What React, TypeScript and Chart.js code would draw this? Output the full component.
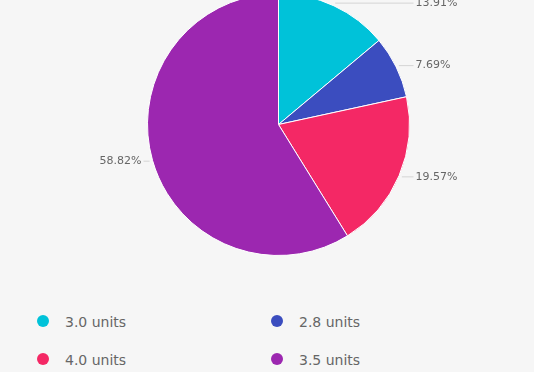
import React, { useEffect, useRef } from "react";
import { Chart, registerables } from "chart.js";

Chart.register(...registerables);

const categories = ["3.0 units", "2.8 units", "4.0 units", "3.5 units"];
const values = [13.91, 7.69, 19.57, 58.82];
const colors = ["#00c2d9", "#3b4dbf", "#f42865", "#9c27b0"];
const labels = ["13.91%", "7.69%", "19.57%", "58.82%"];

const FONT = "'DejaVu Sans', Verdana, sans-serif";

const leaderPlugin = {
  id: "leaders",
  afterDatasetsDraw(chart: any) {
    const ctx = chart.ctx;
    const meta = chart.getDatasetMeta(0);
    ctx.save();
    ctx.font = `11px ${FONT}`;
    ctx.textBaseline = "middle";
    meta.data.forEach((arc: any, i: number) => {
      const { x, y, startAngle, endAngle, outerRadius } = arc.getProps(
        ["x", "y", "startAngle", "endAngle", "outerRadius"],
        true
      );
      const mid = (startAngle + endAngle) / 2;
      const px = x + Math.cos(mid) * (outerRadius + 3);
      const py = y + Math.sin(mid) * (outerRadius + 3);
      const right = Math.cos(mid) >= 0;
      const ex = right ? x + outerRadius + 4 : x - outerRadius - 4;
      ctx.strokeStyle = "#d4d4d4";
      ctx.lineWidth = 1;
      ctx.beginPath();
      ctx.moveTo(px, py);
      ctx.lineTo(ex, py);
      ctx.stroke();
      ctx.fillStyle = "#666666";
      ctx.textAlign = right ? "left" : "right";
      ctx.fillText(labels[i], right ? ex + 2 : ex - 2, py);
    });
    ctx.restore();
  },
};

export default function App() {
  const ref = useRef<HTMLCanvasElement>(null);
  useEffect(() => {
    if (!ref.current) return;
    const chart = new Chart(ref.current, {
      type: "pie",
      data: {
        labels: categories,
        datasets: [
          {
            data: values,
            backgroundColor: colors,
            borderColor: "#ffffff",
            borderWidth: 1,
          },
        ],
      },
      options: {
        responsive: false,
        animation: false,
        layout: { padding: { top: 19, bottom: 18, left: 23, right: 0 } },
        plugins: {
          legend: { display: false },
          tooltip: { enabled: false },
        },
      },
      plugins: [leaderPlugin],
    });
    return () => chart.destroy();
  }, []);

  const legendPos = [
    { x: 42.5, y: 321 },
    { x: 276.5, y: 321 },
    { x: 42.5, y: 359 },
    { x: 276.5, y: 359 },
  ];

  return (
    <div
      style={{
        position: "fixed",
        left: 0,
        top: 0,
        width: 534,
        height: 372,
        overflow: "hidden",
        background: "#f6f6f6",
        fontFamily: FONT,
      }}
    >
      <canvas
        ref={ref}
        width={534}
        height={300}
        style={{ position: "absolute", left: 0, top: -26, width: 534, height: 300 }}
      />
      {categories.map((c, i) => (
        <div key={c}>
          <div
            style={{
              position: "absolute",
              left: legendPos[i].x - 6,
              top: legendPos[i].y - 6,
              width: 12,
              height: 12,
              borderRadius: 6,
              background: colors[i],
            }}
          />
          <div
            style={{
              position: "absolute",
              left: legendPos[i].x + 22.5,
              top: legendPos[i].y - 9,
              height: 20,
              lineHeight: "20px",
              fontSize: 14,
              color: "#666666",
              whiteSpace: "nowrap",
            }}
          >
            {c}
          </div>
        </div>
      ))}
    </div>
  );
}
